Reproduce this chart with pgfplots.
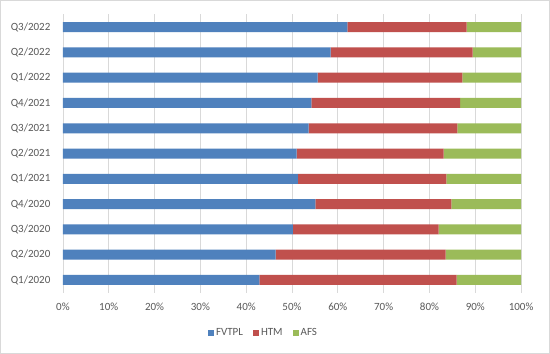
\documentclass[border=0pt]{standalone}
\usepackage{pgfplots}
\pgfplotsset{compat=1.18}
\usepackage{fontspec}
\setmainfont{Carlito}
\definecolor{cblue}{HTML}{4F81BD}
\definecolor{cred}{HTML}{C0504D}
\definecolor{cgreen}{HTML}{9BBB59}
\definecolor{gridgray}{HTML}{D9D9D9}
\definecolor{txt}{HTML}{595959}
\begin{document}
\begin{tikzpicture}
\draw[draw=gridgray, line width=0.75bp, fill=white] (0.5bp,0.5bp) rectangle (549.5bp,353.5bp);
\begin{axis}[
  at={(63bp,61.4bp)}, anchor=south west,
  scale only axis, width=458bp, height=278bp,
  xbar stacked, bar width=10bp,
  xmin=0, xmax=100, ymin=-0.5, ymax=10.5,
  ytick={0,...,10},
  yticklabels={Q1/2020,Q2/2020,Q3/2020,Q4/2020,Q1/2021,Q2/2021,Q3/2021,Q4/2021,Q1/2022,Q2/2022,Q3/2022},
  xtick={0,10,...,100},
  xticklabel={\pgfmathprintnumber{\tick}\%},
  /pgf/number format/assume math mode=true,
  font=\fontsize{11bp}{13bp}\selectfont,
  tick label style={text=txt},
  xticklabel style={yshift=-7bp},
  yticklabel style={xshift=-9bp},
  axis line style={draw=none},
  major tick length=0pt,
  xmajorgrids, grid style={gridgray, line width=0.75bp},
  legend columns=3,
  legend style={draw=none, fill=none, at={(0.4378,-0.1453)}, anchor=center,
    font=\fontsize{11bp}{13bp}\selectfont, text=txt,
    /tikz/every even column/.append style={column sep=8bp}},
  legend image code/.code={\fill[#1] (0bp,-3bp) rectangle (6bp,3bp);},
]
\addplot[fill=cblue, draw=none] coordinates {(42.9,0) (46.4,1) (50.2,2) (55.1,3) (51.3,4) (51.0,5) (53.6,6) (54.2,7) (55.6,8) (58.4,9) (62.1,10)};
\addplot[fill=cred, draw=none] coordinates {(43.0,0) (37.1,1) (31.8,2) (29.7,3) (32.4,4) (32.1,5) (32.5,6) (32.5,7) (31.6,8) (31.0,9) (26.0,10)};
\addplot[fill=cgreen, draw=none] coordinates {(14.1,0) (16.5,1) (18.0,2) (15.2,3) (16.3,4) (16.9,5) (13.9,6) (13.3,7) (12.8,8) (10.6,9) (11.9,10)};
\legend{FVTPL,HTM,AFS}
\end{axis}
\end{tikzpicture}
\end{document}
